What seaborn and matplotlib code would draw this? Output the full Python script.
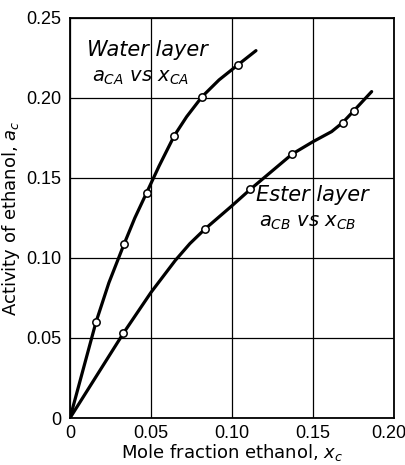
import matplotlib
matplotlib.use("Agg")
import matplotlib.pyplot as plt
import matplotlib.transforms as mtransforms
import seaborn as sns
import pandas as pd

water_curve_x = [0.0, 0.016, 0.024, 0.0333, 0.040, 0.0473, 0.055, 0.0644, 0.072,
                 0.0815, 0.092, 0.1035, 0.1148]
water_curve_y = [0.0, 0.0598, 0.0845, 0.1085, 0.125, 0.1408, 0.1575, 0.1765, 0.1883,
                 0.2008, 0.2113, 0.2206, 0.2296]
water_pts_x = [0.016, 0.0333, 0.0473, 0.0644, 0.0815, 0.1035]
water_pts_y = [0.0598, 0.1085, 0.1408, 0.1765, 0.2008, 0.2206]

# Ester layer: curve vertices and measured points
ester_curve_x = [0.0, 0.0329, 0.050, 0.065, 0.074, 0.0833, 0.0998, 0.1113, 0.1372, 0.150,
                 0.1615, 0.1683, 0.1751, 0.1862]
ester_curve_y = [0.0, 0.0529, 0.0785, 0.0985, 0.109, 0.1181, 0.1325, 0.1429, 0.1650, 0.1727,
                 0.1790, 0.1846, 0.1919, 0.2040]
ester_pts_x = [0.0329, 0.0833, 0.1113, 0.1372, 0.1683, 0.1751]
ester_pts_y = [0.0529, 0.1181, 0.1429, 0.1650, 0.1846, 0.1919]

x_ticks = [0.0, 0.05, 0.10, 0.15, 0.20]
x_tick_labels = ["0", "0.05", "0.10", "0.15", "0.20"]
y_ticks = [0.0, 0.05, 0.10, 0.15, 0.20, 0.25]
y_tick_labels = ["0", "0.05", "0.10", "0.15", "0.20", "0.25"]

sns.set_theme(style="white")
plt.rcParams["font.family"] = ["DejaVu Sans"]
plt.rcParams["mathtext.fontset"] = "dejavusans"

fig = plt.figure(figsize=(4.06, 4.65), dpi=100)
ax = fig.add_axes([70 / 406, 47 / 465, 324 / 406, 400 / 465])

wc = pd.DataFrame({"x": water_curve_x, "y": water_curve_y})
ec = pd.DataFrame({"x": ester_curve_x, "y": ester_curve_y})
wp = pd.DataFrame({"x": water_pts_x, "y": water_pts_y})
ep = pd.DataFrame({"x": ester_pts_x, "y": ester_pts_y})

for df in (wc, ec):
    sns.lineplot(data=df, x="x", y="y", ax=ax, color="black", lw=2.3,
                 sort=False, estimator=None, zorder=3)
for line in ax.get_lines():
    line.set_solid_joinstyle("round")
    line.set_solid_capstyle("round")
for df in (wp, ep):
    sns.scatterplot(data=df, x="x", y="y", ax=ax, s=28, facecolor="white",
                    edgecolor="black", linewidth=1.1, zorder=4)

ax.set_xlim(0, 0.20)
ax.set_ylim(0, 0.25)
ax.set_xticks(x_ticks)
ax.set_xticklabels(x_tick_labels, family=["Liberation Sans", "DejaVu Sans"])
ax.set_yticks(y_ticks)
ax.set_yticklabels(y_tick_labels, family=["Liberation Sans", "DejaVu Sans"])
ax.tick_params(axis="both", length=0, labelsize=13, colors="black")
ax.tick_params(axis="x", pad=5)
ax.tick_params(axis="y", pad=6)
# keep last x label inside the figure, as in the reference
last = ax.get_xticklabels()[-1]
last.set_transform(last.get_transform() + mtransforms.ScaledTranslation(-5 / 100, 0, fig.dpi_scale_trans))

ax.grid(True, color="black", lw=0.9)
for s in ax.spines.values():
    s.set_color("black")
    s.set_linewidth(1.3)

ax.set_xlabel("Mole fraction ethanol, $x_c$", fontsize=13, color="black", labelpad=0)
ax.set_ylabel("Activity of ethanol, $a_c$", fontsize=13, color="black", labelpad=3)

ax.text(0.0105, 0.2297, "Water layer", fontsize=15, style="italic", ha="left", va="center",
        color="black", zorder=5)
ax.text(0.0135, 0.2125, r"$a_{CA}$ vs $x_{CA}$", fontsize=14, style="italic", ha="left",
        va="center", color="black", zorder=5)
ax.text(0.1150, 0.1393, "Ester layer", fontsize=15, style="italic", ha="left", va="center",
        color="black", zorder=5)
ax.text(0.1165, 0.1225, r"$a_{CB}$ vs $x_{CB}$", fontsize=14, style="italic", ha="left",
        va="center", color="black", zorder=5)

fig.savefig("out.png", dpi=100)
